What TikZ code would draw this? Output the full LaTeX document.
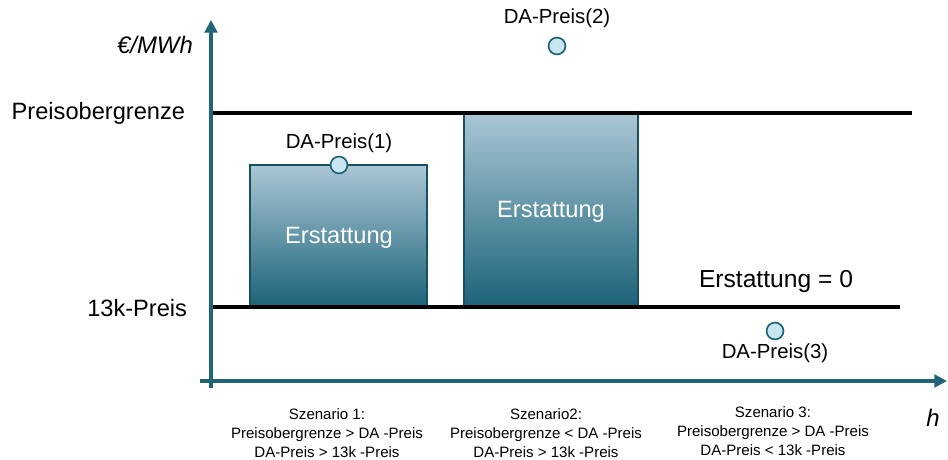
\documentclass[tikz,border=0pt]{standalone}
\usepackage{fontspec}
\setmainfont{Liberation Sans}
\usetikzlibrary{arrows.meta}
\definecolor{achse}{HTML}{1F6477}
\definecolor{boxtop}{HTML}{AAC7D5}
\definecolor{boxbot}{HTML}{1C6279}
\definecolor{punkt}{HTML}{C8E6EF}
\tikzset{
  achsenlinie/.style={draw=achse, line width=2.2pt, -{Triangle[length=9pt,width=9pt]}},
  grenze/.style={draw=black, line width=2.4pt},
  balken/.style={draw=achse!80!black, line width=0.8pt, top color=boxtop, bottom color=boxbot},
  preispunkt/.style={circle, draw=achse, line width=1.2pt, fill=punkt, minimum size=12pt, inner sep=0pt},
  grosstext/.style={font=\fontsize{16.8}{18}\selectfont},
  mitteltext/.style={font=\fontsize{14.5}{16}\selectfont},
  szenario/.style={font=\fontsize{10.7}{13.5}\selectfont, align=center, anchor=north}
}
\begin{document}
\begin{tikzpicture}[x=0.025cm, y=0.025cm]
            \useasboundingbox (0,0) rectangle (948,460);
            % Balken
            \draw[balken] (250,153) rectangle (427,295);
            \draw[balken] (464,153) rectangle (638,347);
            % Grenzen
            \draw[grenze] (211,347) -- (912,347);
            \draw[grenze] (211,153) -- (900,153);
            % Achsen
            \draw[achsenlinie] (211,72) -- (211,440);
            \draw[achsenlinie] (200,79) -- (947,79);
            % Beschriftung Achsen
            \node[grosstext, font=\fontsize{17}{18}\selectfont\itshape] (einheit) at (155,415) {€/MWh};
            \node[grosstext, font=\fontsize{17}{18}\selectfont\itshape] (zeit) at (933,42) {h};
            \node[grosstext, anchor=east] (obergrenze) at (190,347) {Preisobergrenze};
            \node[grosstext, anchor=east] (untergrenze) at (192,152) {13k-Preis};
            % Erstattung
            \node[grosstext, text=white] (erst1) at (339,222) {Erstattung};
            \node[grosstext, text=white] (erst2) at (551,248) {Erstattung};
            \node[grosstext, font=\fontsize{17.5}{19}\selectfont] (erst3) at (776,179) {Erstattung = 0};
            % DA-Preise
            \node[preispunkt] (da1) at (339,295) {};
            \node[preispunkt] (da2) at (557,414) {};
            \node[preispunkt] (da3) at (775,129) {};
            \node[mitteltext] (da1text) at (339,317) {DA-Preis(1)};
            \node[mitteltext] (da2text) at (557,442) {DA-Preis(2)};
            \node[mitteltext] (da3text) at (775,107) {DA-Preis(3)};
            % Szenarien
            \node[szenario] (sz1) at (327,56) {Szenario 1:\\Preisobergrenze > DA -Preis\\DA-Preis > 13k -Preis};
            \node[szenario] (sz2) at (546,56) {Szenario2:\\Preisobergrenze < DA -Preis\\DA-Preis > 13k -Preis};
            \node[szenario] (sz3) at (773,58) {Szenario 3:\\Preisobergrenze > DA -Preis\\DA-Preis < 13k -Preis};
        \end{tikzpicture}
\end{document}
